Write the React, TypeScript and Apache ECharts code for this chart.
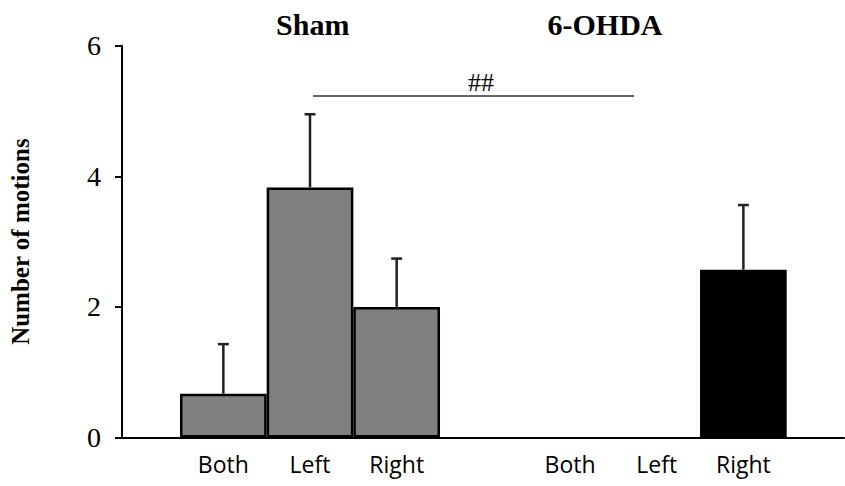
import React, { useEffect, useRef } from "react";
import * as echarts from "echarts";

const categories = ["Both", "Left", "Right", "", "Both", "Left", "Right"];
const shamMeans = [0.67, 3.83, 2.0, "-", "-", "-", "-"];
const shamErrors = [0.76, 1.12, 0.74, null, null, null, null];
const ohdaMeans = ["-", "-", "-", "-", 0, 0, 2.57];
const ohdaErrors = [null, null, null, null, null, null, 0.99];
const yTicks = { min: 0, max: 6, interval: 2 };
const groupTitles = ["Sham", "6-OHDA"];
const significance = "##";
const yAxisName = "Number of motions";

export default function App() {
  const ref = useRef<HTMLDivElement>(null);
  useEffect(() => {
    if (!ref.current) return;
    const chart = echarts.init(ref.current, null, { renderer: "svg" });
    const errData: any[] = [];
    [shamMeans, ohdaMeans].forEach((means, s) => {
      const errs = s === 0 ? shamErrors : ohdaErrors;
      means.forEach((m, i) => {
        const e = errs[i];
        if (typeof m === "number" && typeof e === "number") errData.push([i, m, m + e]);
      });
    });
    const top = 45.7;
    const bottom = 48.5;
    chart.setOption({
      animation: false,
      grid: [
        { left: 115, right: 1, top, bottom },
        { left: 180, width: 606.7, top, bottom },
      ],
      xAxis: [
        {
          gridIndex: 0,
          type: "value",
          min: 0,
          max: 1,
          axisLine: { show: true, lineStyle: { color: "#000", width: 2 } },
          axisTick: { show: false },
          axisLabel: { show: false },
          splitLine: { show: false },
        },
        {
          gridIndex: 1,
          type: "category",
          data: categories,
          axisLine: { show: false },
          axisTick: { show: false },
          axisLabel: {
            color: "#000",
            fontFamily: "Open Sans",
            fontSize: 23,
            margin: 15,
            interval: 0,
          },
        },
      ],
      yAxis: [
        {
          gridIndex: 0,
          type: "value",
          min: yTicks.min,
          max: yTicks.max,
          interval: yTicks.interval,
          name: yAxisName,
          nameLocation: "middle",
          nameGap: 89,
          nameTextStyle: {
            color: "#000",
            fontFamily: "Liberation Serif",
            fontWeight: "bold",
            fontSize: 25,
          },
          axisLine: { show: true, lineStyle: { color: "#000", width: 2 } },
          axisTick: { show: true, inside: false, length: 7, lineStyle: { color: "#000", width: 2 } },
          axisLabel: {
            color: "#000",
            fontFamily: "Liberation Serif",
            fontSize: 28,
            margin: 21,
          },
          splitLine: { show: false },
        },
        {
          gridIndex: 1,
          type: "value",
          min: yTicks.min,
          max: yTicks.max,
          interval: yTicks.interval,
          show: false,
          splitLine: { show: false },
        },
      ],
      series: [
        {
          type: "bar",
          xAxisIndex: 1,
          yAxisIndex: 1,
          data: shamMeans,
          barGap: "-100%",
          barCategoryGap: 0,
          itemStyle: { color: "#808080", borderColor: "#000", borderWidth: 2.5 },
        },
        {
          type: "bar",
          xAxisIndex: 1,
          yAxisIndex: 1,
          data: ohdaMeans,
          barGap: "-100%",
          barCategoryGap: 0,
          itemStyle: { color: "#000", borderWidth: 0 },
        },
        {
          type: "custom",
          xAxisIndex: 1,
          yAxisIndex: 1,
          data: errData,
          z: 10,
          renderItem: (params: any, api: any) => {
            const x = api.value(0);
            const p0 = api.coord([x, api.value(1)]);
            const p1 = api.coord([x, api.value(2)]);
            const half = 5.5;
            const style = { stroke: "#222", lineWidth: 2.5 };
            return {
              type: "group",
              children: [
                { type: "line", shape: { x1: p0[0], y1: p0[1], x2: p1[0], y2: p1[1] }, style },
                { type: "line", shape: { x1: p1[0] - half, y1: p1[1], x2: p1[0] + half, y2: p1[1] }, style },
              ],
            };
          },
        },
      ],
      graphic: [
        {
          type: "text",
          x: 312.7,
          y: 24,
          style: {
            text: groupTitles[0],
            fill: "#000",
            font: "bold 30px 'Liberation Serif'",
            textAlign: "center",
            textVerticalAlign: "middle",
          },
        },
        {
          type: "text",
          x: 605,
          y: 24,
          style: {
            text: groupTitles[1],
            fill: "#000",
            font: "bold 30px 'Liberation Serif'",
            textAlign: "center",
            textVerticalAlign: "middle",
          },
        },
        {
          type: "text",
          x: 481,
          y: 82,
          style: {
            text: significance,
            fill: "#000",
            font: "26px 'Liberation Serif'",
            textAlign: "center",
            textVerticalAlign: "middle",
          },
        },
        {
          type: "line",
          shape: { x1: 313, y1: 96, x2: 634, y2: 96 },
          style: { stroke: "#333", lineWidth: 1.5 },
        },
      ],
    });
    return () => chart.dispose();
  }, []);
  return <div ref={ref} style={{ width: 845, height: 486, position: "absolute", left: 0, top: 0 }} />;
}
